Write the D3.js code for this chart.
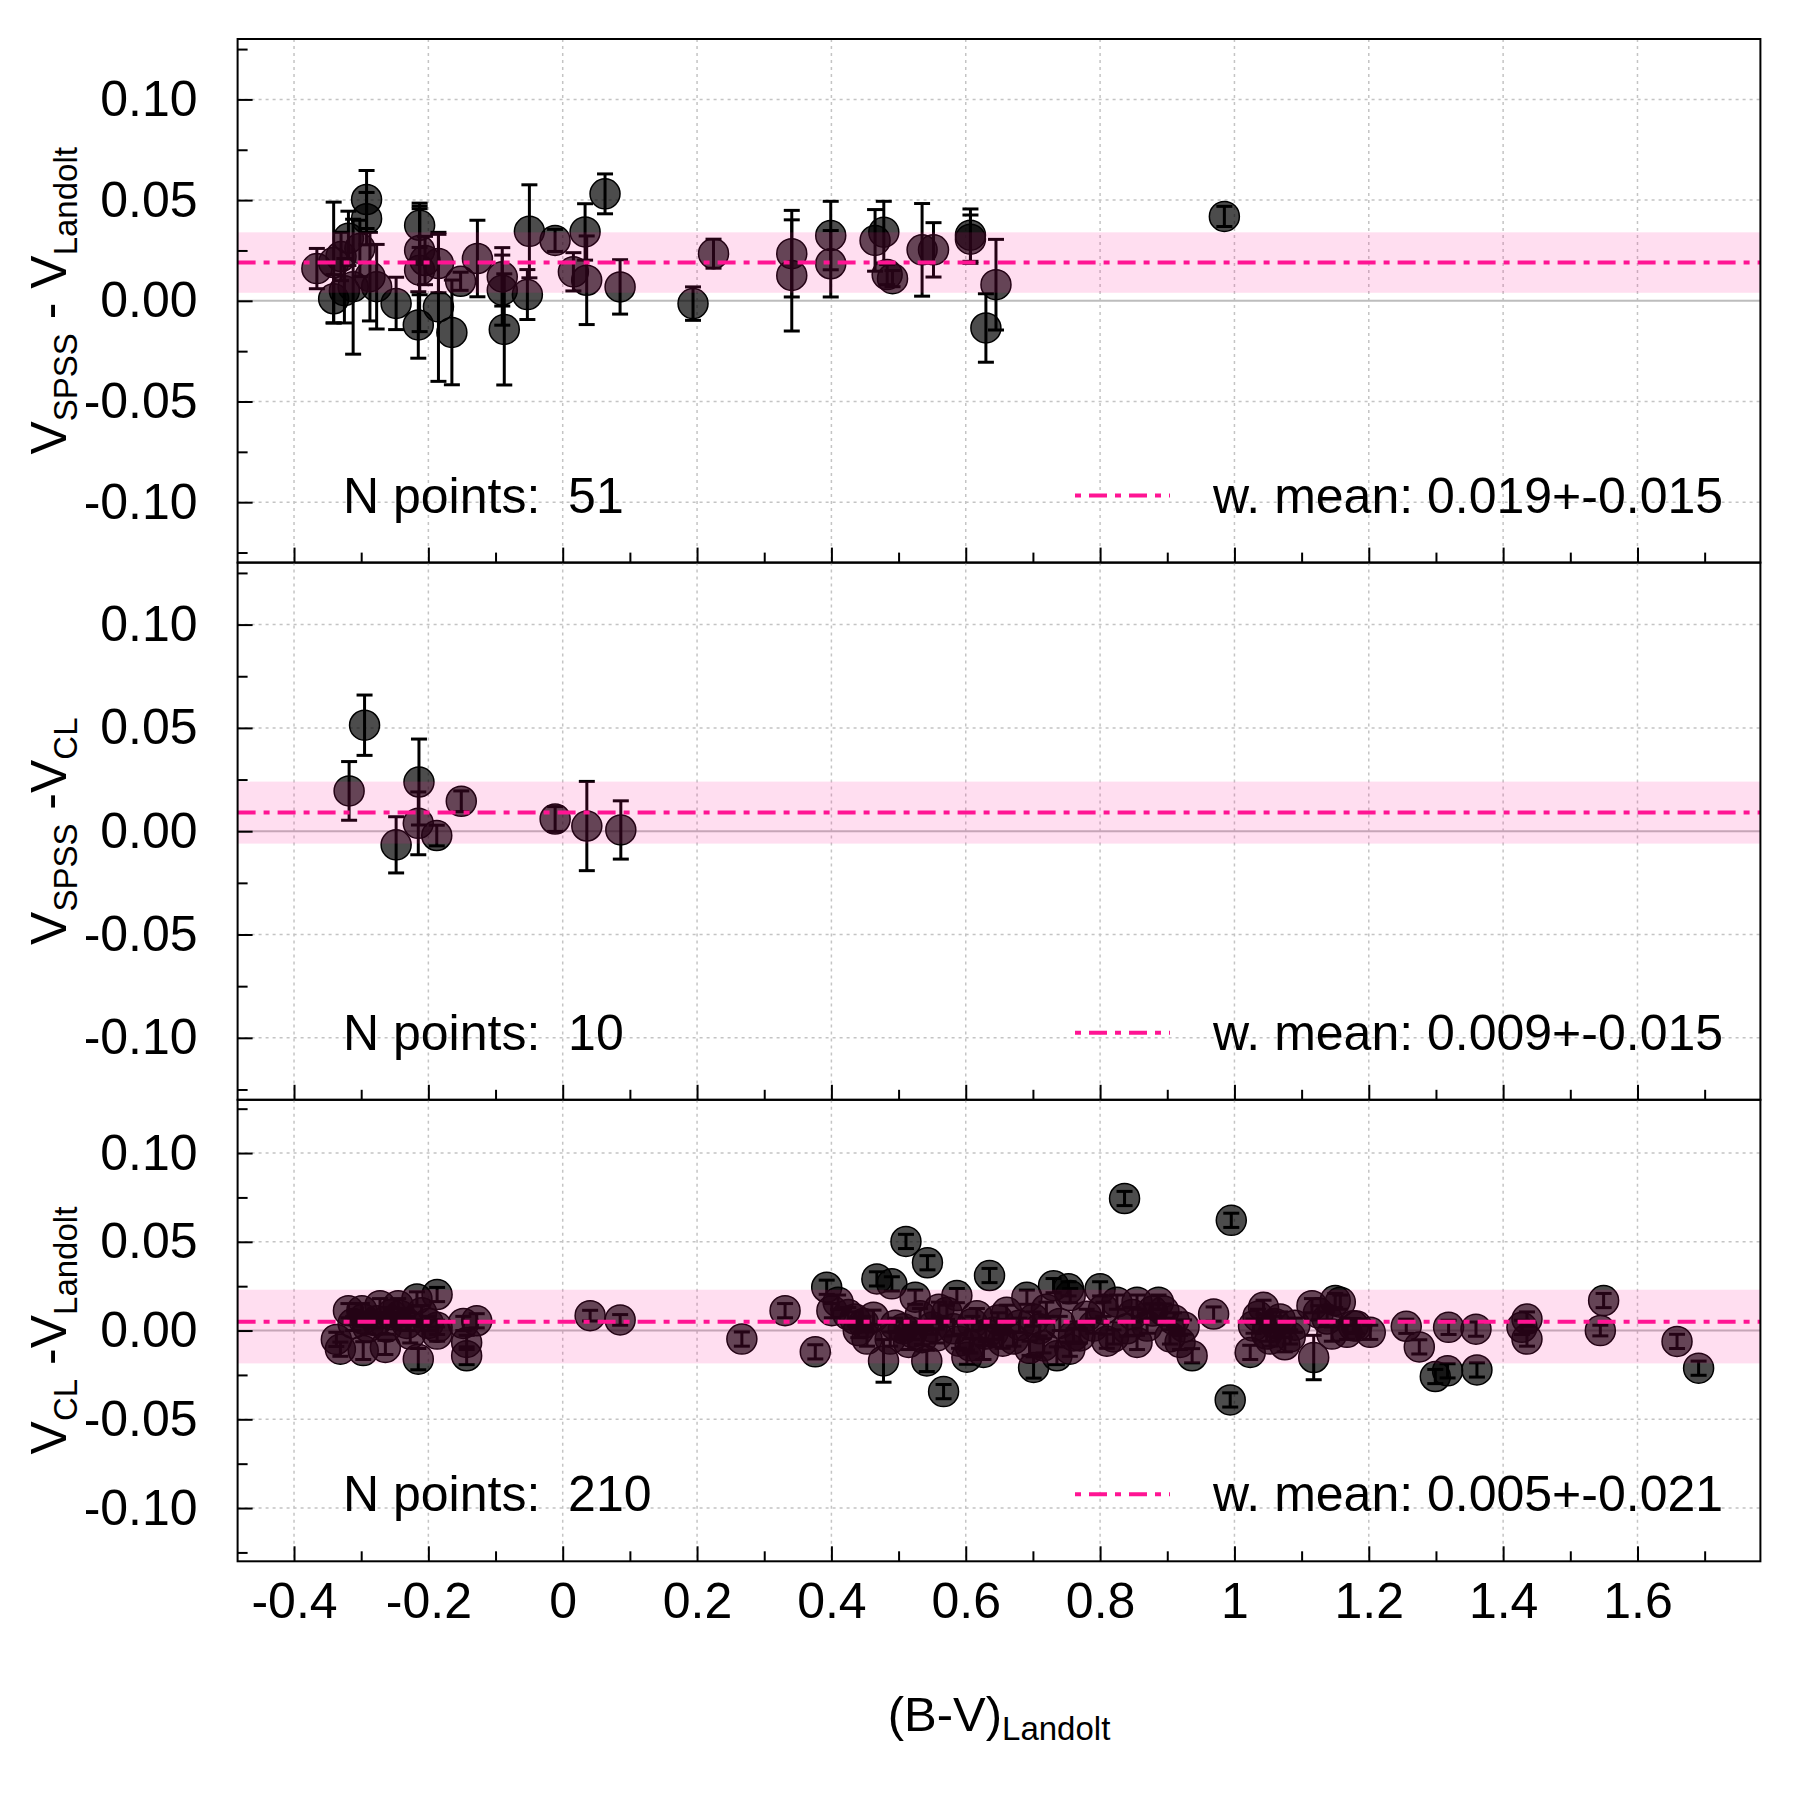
<!DOCTYPE html>
<html>
<head>
<meta charset="utf-8">
<script src="https://cdn.jsdelivr.net/npm/d3@7"></script>
<style>
  body { margin: 0; background: #fff; }
  text { font-family: "Liberation Sans", Arial, Helvetica, sans-serif; }
</style>
</head>
<body>
<script>
const width = 1800;
const height = 1800;
const plotLeft = 237.6;
const plotRight = 1760.4;
// top / boundaries / bottom of the three stacked panels
const panelEdges = [39, 562.6, 1099.8, 1561.3];

const xTicks = [-0.4, -0.2, 0, 0.2, 0.4, 0.6, 0.8, 1, 1.2, 1.4, 1.6];
const xTickLabels = ["-0.4", "-0.2", "0", "0.2", "0.4", "0.6", "0.8", "1", "1.2", "1.4", "1.6"];
const xMinorTicks = [-0.3, -0.1, 0.1, 0.3, 0.5, 0.7, 0.9, 1.1, 1.3, 1.5, 1.7];
const yTicks = [0.10, 0.05, 0, -0.05, -0.10];
const yTickLabels = ["0.10", "0.05", "0.00", "-0.05", "-0.10"];
const yMinorTicks = [0.125, 0.075, 0.025, -0.025, -0.075, -0.125];

const panelCounts = [51, 10, 210];
const panelMeans = [0.019, 0.009, 0.005];
const panelMeanErrs = [0.015, 0.015, 0.021];
const bandLow = [0.004, -0.006, -0.0185];
const bandHigh = [0.034, 0.024, 0.023];

// [B-V, difference, error]
const spssVsLandolt = [
    [-0.366, 0.016, 0.010], [-0.341, 0.001, 0.012], [-0.341, 0.019, 0.030], [-0.330, 0.022, 0.012],
    [-0.325, 0.005, 0.016], [-0.319, 0.031, 0.0135], [-0.312, 0.007, 0.0335], [-0.302, 0.026, 0.014],
    [-0.292, 0.0503, 0.0144], [-0.292, 0.0408, 0.013], [-0.287, 0.012, 0.022], [-0.277, 0.007, 0.021],
    [-0.248, -0.0013, 0.013], [-0.213, 0.0375, 0.011], [-0.213, 0.025, 0.022], [-0.213, 0.0152, 0.0305],
    [-0.215, -0.012, 0.0165], [-0.205, 0.020, 0.012], [-0.185, 0.0185, 0.0145], [-0.185, -0.003, 0.037],
    [-0.165, -0.0157, 0.026], [-0.152, 0.0097, 0.0045], [-0.127, 0.021, 0.019], [-0.090, 0.0119, 0.0145],
    [-0.090, 0.0053, 0.0174], [-0.087, -0.0142, 0.0276], [-0.0526, 0.0031, 0.0124], [-0.0496, 0.0345, 0.0231],
    [-0.0114, 0.030, 0.0055], [0.0159, 0.0144, 0.0095], [0.0333, 0.0342, 0.014], [0.0357, 0.0102, 0.022],
    [0.063, 0.0531, 0.0099], [0.0854, 0.0069, 0.0135], [0.194, -0.0014, 0.0083], [0.2245, 0.0234, 0.0072],
    [0.341, 0.0234, 0.0215], [0.341, 0.0126, 0.0276], [0.399, 0.0324, 0.017], [0.399, 0.0184, 0.0165],
    [0.465, 0.0300, 0.0153], [0.478, 0.0341, 0.0153], [0.483, 0.013, 0.005], [0.491, 0.011, 0.004],
    [0.535, 0.0253, 0.023], [0.552, 0.0253, 0.0135], [0.607, 0.0326, 0.013], [0.607, 0.0306, 0.012],
    [0.630, -0.0135, 0.017], [0.645, 0.008, 0.0225], [0.985, 0.0419, 0.005]
];

const spssVsCl = [
    [-0.318, 0.0195, 0.0142], [-0.295, 0.0513, 0.0146], [-0.248, -0.0066, 0.0136], [-0.214, 0.0238, 0.0208],
    [-0.215, 0.0038, 0.0152], [-0.1875, -0.0021, 0.005], [-0.151, 0.0145, 0.005], [-0.0113, 0.0059, 0.006],
    [0.0359, 0.0025, 0.0216], [0.0865, 0.0006, 0.0141]
];

const clVsLandolt = [
    [-0.337, -0.005, 0.004], [-0.331, -0.0105, 0.004], [-0.319, 0.0112, 0.004], [-0.312, 0.004, 0.004],
    [-0.299, 0.0112, 0.004], [-0.297, 0.0065, 0.004], [-0.297, -0.0113, 0.005], [-0.290, 0.002, 0.004],
    [-0.277, 0.0055, 0.004], [-0.272, 0.014, 0.004], [-0.264, -0.0095, 0.004], [-0.262, 0.002, 0.004],
    [-0.255, 0.009, 0.004], [-0.245, 0.014, 0.004], [-0.242, 0.0085, 0.004], [-0.232, 0.004, 0.004],
    [-0.227, -0.002, 0.005], [-0.217, 0.0178, 0.004], [-0.215, -0.0161, 0.006], [-0.210, 0.010, 0.004],
    [-0.200, 0.004, 0.004], [-0.187, 0.0203, 0.004], [-0.187, 0.0018, 0.004], [-0.187, -0.002, 0.004],
    [-0.148, 0.004, 0.004], [-0.143, -0.0067, 0.004], [-0.143, -0.0142, 0.005], [-0.128, 0.0055, 0.004],
    [0.0408, 0.0084, 0.003], [0.0855, 0.006, 0.003], [0.2667, -0.0048, 0.004], [0.331, 0.0112, 0.004],
    [0.376, -0.012, 0.004], [0.393, 0.0244, 0.004], [0.4007, 0.0112, 0.004], [0.410, 0.016, 0.004],
    [0.425, 0.009, 0.004], [0.435, 0.0065, 0.004], [0.440, 0.000, 0.004], [0.448, 0.004, 0.004],
    [0.453, -0.0048, 0.004], [0.4627, 0.0075, 0.004], [0.4677, 0.0291, 0.004], [0.4776, -0.0171, 0.012],
    [0.4875, -0.0048, 0.004], [0.490, 0.0263, 0.004], [0.495, 0.003, 0.004], [0.507, 0.001, 0.004],
    [0.511, 0.0502, 0.004], [0.515, -0.0067, 0.004], [0.5247, 0.0188, 0.004], [0.520, -0.001, 0.004],
    [0.532, 0.0084, 0.004], [0.535, -0.004, 0.004], [0.542, -0.0171, 0.006], [0.543, 0.0382, 0.004],
    [0.550, 0.002, 0.004], [0.557, -0.003, 0.004], [0.560, 0.012, 0.004], [0.567, -0.0344, 0.004],
    [0.572, 0.0103, 0.004], [0.5818, 0.001, 0.004], [0.5868, 0.0197, 0.004], [0.590, -0.006, 0.004],
    [0.6017, -0.015, 0.004], [0.6066, -0.0086, 0.004], [0.610, 0.004, 0.004], [0.6166, 0.0084, 0.004],
    [0.6264, -0.0123, 0.004], [0.630, -0.002, 0.004], [0.6354, 0.031, 0.004], [0.641, -0.001, 0.004],
    [0.648, 0.006, 0.004], [0.655, -0.006, 0.004], [0.661, 0.0103, 0.004], [0.671, -0.0048, 0.004],
    [0.680, 0.003, 0.004], [0.691, 0.0188, 0.004], [0.695, -0.010, 0.004], [0.701, 0.0065, 0.004],
    [0.701, -0.0208, 0.006], [0.710, 0.001, 0.004], [0.7158, -0.0086, 0.004], [0.720, 0.012, 0.004],
    [0.7307, 0.0253, 0.004], [0.7357, -0.0142, 0.005], [0.740, 0.004, 0.004], [0.753, 0.0235, 0.004],
    [0.755, -0.0105, 0.004], [0.7555, 0.0197, 0.004], [0.7604, -0.003, 0.004], [0.770, -0.003, 0.004],
    [0.780, 0.008, 0.004], [0.790, 0.0025, 0.004], [0.800, 0.0235, 0.004], [0.805, 0.012, 0.004],
    [0.810, -0.006, 0.004], [0.820, -0.0036, 0.004], [0.825, 0.016, 0.004], [0.8364, 0.0744, 0.004],
    [0.840, 0.001, 0.004], [0.848, 0.009, 0.004], [0.855, 0.016, 0.004], [0.855, -0.0067, 0.004],
    [0.870, 0.0025, 0.004], [0.878, 0.011, 0.004], [0.887, 0.016, 0.004], [0.895, 0.011, 0.004],
    [0.904, -0.0036, 0.004], [0.910, 0.006, 0.004], [0.919, -0.0067, 0.004], [0.925, 0.002, 0.004],
    [0.937, -0.0142, 0.004], [0.969, 0.0093, 0.004], [0.9937, -0.0391, 0.004], [0.9953, 0.0621, 0.004],
    [1.0235, -0.0123, 0.004], [1.0284, 0.0025, 0.004], [1.035, 0.008, 0.004], [1.0433, 0.0131, 0.004],
    [1.048, -0.002, 0.004], [1.053, -0.0048, 0.004], [1.060, 0.004, 0.004], [1.068, 0.0065, 0.004],
    [1.075, -0.008, 0.004], [1.083, -0.0036, 0.004], [1.090, 0.003, 0.004], [1.1154, 0.014, 0.004],
    [1.118, -0.0152, 0.0125], [1.125, 0.010, 0.004], [1.138, 0.0065, 0.004], [1.145, -0.002, 0.004],
    [1.150, 0.0169, 0.004], [1.1576, 0.016, 0.004], [1.1675, -0.001, 0.004], [1.177, 0.0027, 0.004],
    [1.182, 0.0025, 0.004], [1.2022, -0.001, 0.004], [1.2558, 0.0024, 0.004], [1.2752, -0.0092, 0.004],
    [1.299, -0.0259, 0.004], [1.3173, -0.0227, 0.004], [1.3188, 0.0018, 0.004], [1.3596, 0.0008, 0.004],
    [1.361, -0.0222, 0.004], [1.428, 0.0018, 0.004], [1.4355, 0.0065, 0.004], [1.4355, -0.0048, 0.004],
    [1.5447, 0.000, 0.003], [1.5496, 0.0169, 0.004], [1.6589, -0.0061, 0.004], [1.691, -0.0212, 0.004]
];

const panelData = [spssVsLandolt, spssVsCl, clVsLandolt];
// y label pieces: [main, subscript, main, subscript]
const yLabelParts = [
    ["V", "SPSS", " - V", "Landolt"],
    ["V", "SPSS", " -V", "CL"],
    ["V", "CL", " -V", "Landolt"]
];

const meanColor = "#ff1493";
const gridColor = "#c4c4c4";
const dashDot = "18,8,6,8";

const svg = d3.select("body")
    .append("svg")
    .attr("width", width)
    .attr("height", height)
    .style("background", "#fff");

const x = d3.scaleLinear().domain([-0.484, 1.783]).range([plotLeft, plotRight]);

panelData.forEach((data, p) => {
    const top = panelEdges[p];
    const bottom = panelEdges[p + 1];
    const y = d3.scaleLinear().domain([-0.13, 0.13]).range([bottom, top]);
    const g = svg.append("g");

    // dotted grid
    g.selectAll(".vgrid").data(xTicks)
        .join("line")
        .attr("x1", d => x(d)).attr("x2", d => x(d))
        .attr("y1", top).attr("y2", bottom)
        .attr("stroke", gridColor).attr("stroke-width", 1.5)
        .attr("stroke-dasharray", "3,4");
    g.selectAll(".hgrid").data(yTicks.filter(d => d !== 0))
        .join("line")
        .attr("x1", plotLeft).attr("x2", plotRight)
        .attr("y1", d => y(d)).attr("y2", d => y(d))
        .attr("stroke", gridColor).attr("stroke-width", 1.5)
        .attr("stroke-dasharray", "3,4");

    // zero line
    g.append("line")
        .attr("x1", plotLeft).attr("x2", plotRight)
        .attr("y1", y(0)).attr("y2", y(0))
        .attr("stroke", "#bdbdbd").attr("stroke-width", 2);

    // points
    g.selectAll(".pt").data(data)
        .join("circle")
        .attr("cx", d => x(d[0]))
        .attr("cy", d => y(d[1]))
        .attr("r", 15)
        .attr("fill", "#000")
        .attr("fill-opacity", 0.7)
        .attr("stroke", "#000")
        .attr("stroke-width", 1.5);

    // error bars
    const bars = g.selectAll(".err").data(data).join("g");
    bars.append("line")
        .attr("x1", d => x(d[0])).attr("x2", d => x(d[0]))
        .attr("y1", d => y(d[1] - d[2])).attr("y2", d => y(d[1] + d[2]))
        .attr("stroke", "#000").attr("stroke-width", 3);
    [-1, 1].forEach(s => {
        bars.append("line")
            .attr("x1", d => x(d[0]) - 8).attr("x2", d => x(d[0]) + 8)
            .attr("y1", d => y(d[1] + s * d[2])).attr("y2", d => y(d[1] + s * d[2]))
            .attr("stroke", "#000").attr("stroke-width", 3);
    });

    // error band drawn over the points
    g.append("rect")
        .attr("x", plotLeft)
        .attr("width", plotRight - plotLeft)
        .attr("y", y(bandHigh[p]))
        .attr("height", y(bandLow[p]) - y(bandHigh[p]))
        .attr("fill", meanColor)
        .attr("fill-opacity", 0.14);

    // weighted mean
    g.append("line")
        .attr("x1", plotLeft).attr("x2", plotRight)
        .attr("y1", y(panelMeans[p])).attr("y2", y(panelMeans[p]))
        .attr("stroke", meanColor).attr("stroke-width", 4)
        .attr("stroke-dasharray", dashDot);

    // axes (ticks inward)
    const yAxis = d3.axisLeft(y).tickValues(yTicks).tickSize(-15).tickPadding(40)
        .tickFormat((d, i) => yTickLabels[i]);
    const yMinor = d3.axisLeft(y).tickValues(yMinorTicks).tickSize(-10).tickFormat("");
    const xAxis = d3.axisBottom(x).tickValues(xTicks).tickSize(-15).tickPadding(21)
        .tickFormat((d, i) => p === 2 ? xTickLabels[i] : "");
    const xMinor = d3.axisBottom(x).tickValues(xMinorTicks).tickSize(-10).tickFormat("");

    [[yAxis, `translate(${plotLeft},0)`], [yMinor, `translate(${plotLeft},0)`],
     [xAxis, `translate(0,${bottom})`], [xMinor, `translate(0,${bottom})`]].forEach(([ax, tr]) => {
        const a = g.append("g").attr("transform", tr).call(ax);
        a.select(".domain").remove();
        a.selectAll("line").attr("stroke", "#000").attr("stroke-width", 2);
        a.selectAll("text")
            .attr("fill", "#000")
            .style("font-size", "50px")
            .style("font-family", "'Liberation Sans', Arial, sans-serif");
    });

    // frame
    g.append("rect")
        .attr("x", plotLeft).attr("y", top)
        .attr("width", plotRight - plotLeft).attr("height", bottom - top)
        .attr("fill", "none").attr("stroke", "#000").attr("stroke-width", 2);

    // annotations
    const base = bottom - 50;
    g.append("text")
        .attr("x", 343).attr("y", base)
        .style("font-size", "50px")
        .style("white-space", "pre")
        .text("N points:  " + panelCounts[p]);
    g.append("line")
        .attr("x1", 1075).attr("x2", 1170)
        .attr("y1", base - 17).attr("y2", base - 17)
        .attr("stroke", meanColor).attr("stroke-width", 4)
        .attr("stroke-dasharray", "6,8,18,8");
    g.append("text")
        .attr("x", 1213).attr("y", base)
        .style("font-size", "50px")
        .text("w. mean: " + panelMeans[p].toFixed(3) + "+-" + panelMeanErrs[p].toFixed(3));

    // y label
    const parts = yLabelParts[p];
    const yl = g.append("text")
        .attr("transform", `translate(66,${(top + bottom) / 2}) rotate(-90)`)
        .attr("text-anchor", "middle")
        .style("font-size", "50px")
        .style("white-space", "pre");
    yl.append("tspan").text(parts[0]);
    yl.append("tspan").attr("dy", 11).style("font-size", "33px").text(parts[1]);
    yl.append("tspan").attr("dy", -11).text(parts[2]);
    yl.append("tspan").attr("dy", 11).style("font-size", "33px").text(parts[3]);
});

// x label
const xl = svg.append("text")
    .attr("x", (plotLeft + plotRight) / 2)
    .attr("y", 1731)
    .attr("text-anchor", "middle")
    .style("font-size", "49px");
xl.append("tspan").text("(B-V)");
xl.append("tspan").attr("dy", 9).style("font-size", "33px").text("Landolt");
</script>
</body>
</html>
